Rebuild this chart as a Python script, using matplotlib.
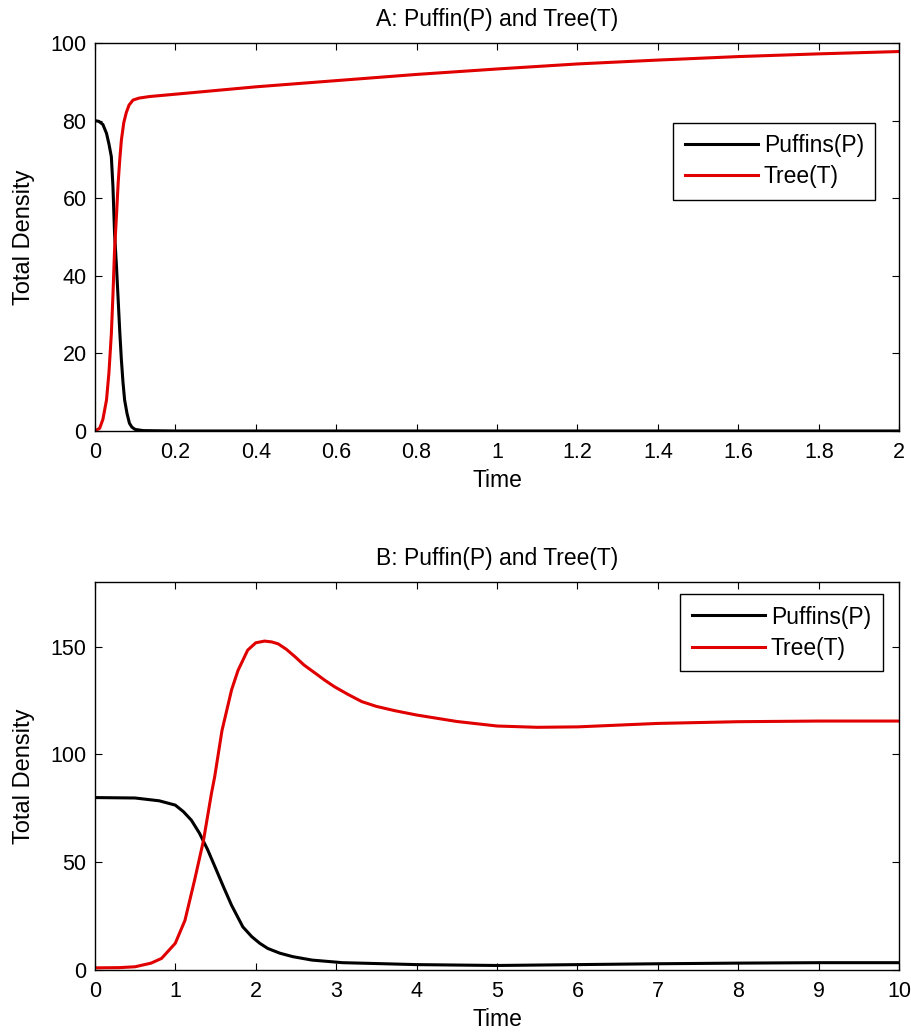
import numpy as np
from matplotlib import pyplot as plt

## Panel A data ##
a_time_p = [0, 0.01, 0.02, 0.029, 0.035, 0.041, 0.045, 0.049, 0.054, 0.058, 0.062, 0.066,
            0.070, 0.074, 0.080, 0.086, 0.092, 0.10, 0.12, 0.2, 0.5, 1.0, 1.5, 2.0]
a_puffins = [80, 79.8, 79, 76.7, 74, 70.7, 63, 51, 42, 33.8, 25.5, 18.3,
             12.5, 8, 4.5, 2, 1, 0.4, 0.1, 0, 0, 0, 0, 0]
a_time_t = [0, 0.012, 0.02, 0.029, 0.035, 0.041, 0.045, 0.049, 0.054, 0.058, 0.062, 0.066,
            0.072, 0.078, 0.085, 0.095, 0.11, 0.136, 0.2, 0.4, 0.6, 0.8, 1.0, 1.2, 1.4,
            1.6, 1.8, 2.0]
a_tree = [0, 0.7, 3, 8, 15, 25, 35, 46.6, 56, 64, 70, 75,
          79.5, 82, 84, 85.3, 85.8, 86.2, 86.8, 88.7, 90.3, 91.9, 93.3, 94.6, 95.6,
          96.5, 97.2, 97.8]

## Panel B data ##
b_time_p = [0, 0.5, 0.8, 1.0, 1.1, 1.2, 1.3, 1.4, 1.5, 1.6, 1.7, 1.84, 1.95, 2.05,
            2.15, 2.3, 2.46, 2.7, 3.08, 3.7, 4.0, 5.0, 6.0, 7.0, 8.0, 9.0, 10.0]
b_puffins = [80, 79.8, 78.5, 76.5, 73.5, 69.5, 63.5, 56, 47.3, 38.5, 30, 20, 15.5, 12.4,
             10, 7.8, 6.2, 4.6, 3.4, 2.8, 2.5, 2.1, 2.5, 2.9, 3.2, 3.4, 3.4]
b_time_t = [0, 0.3, 0.5, 0.7, 0.83, 1.0, 1.12, 1.24, 1.35, 1.45, 1.49, 1.58, 1.7, 1.78,
            1.9, 2.0, 2.11, 2.2, 2.28, 2.38, 2.49, 2.6, 2.74, 2.86, 2.98, 3.15, 3.32,
            3.5, 3.73, 4.0, 4.5, 5.0, 5.5, 6.0, 7.0, 8.0, 9.0, 10.0]
b_tree = [1, 1.1, 1.5, 3.2, 5.4, 12.4, 23, 41.7, 60, 82, 89.7, 111, 130, 139,
          148.4, 151.8, 152.6, 152.2, 151.3, 148.8, 145.3, 141.5, 137.7, 134.4, 131.4, 127.8, 124.5,
          122.3, 120.3, 118.3, 115.3, 113.2, 112.6, 112.8, 114.4, 115.2, 115.5, 115.5]

plt.rcParams['font.family'] = ['Liberation Sans', 'DejaVu Sans']

fig = plt.figure(figsize=(9.12, 10.36), dpi=100)
ax1 = fig.add_axes([0.104, 0.584, 0.882, 0.3745])
ax2 = fig.add_axes([0.104, 0.0637, 0.882, 0.3745])


def style(ax, title):
    ax.set_title(title, fontsize=16.5, pad=12)
    ax.set_xlabel('Time', fontsize=16.5, labelpad=4)
    ax.set_ylabel('Total Density', fontsize=17, labelpad=11)
    ax.tick_params(direction='in', top=True, right=True, length=5, labelsize=15.5)
    ax.tick_params(axis='x', pad=8)
    ax.tick_params(axis='y', pad=6)
    for s in ax.spines.values():
        s.set_linewidth(1.0)


def legend(ax, anchor):
    leg = ax.legend(loc='upper left', bbox_to_anchor=anchor, fancybox=False,
                    edgecolor='black', framealpha=1, handlelength=3.2, handletextpad=0.25,
                    borderpad=0.5, fontsize=16.5, labelspacing=0.35, borderaxespad=0)
    leg.get_frame().set_linewidth(1.0)


ax1.plot(a_time_p, a_puffins, c='black', lw=2.2, label='Puffins(P)')
ax1.plot(a_time_t, a_tree, c='#e00000', lw=2.2, label='Tree(T)')
ax1.set_xlim(0, 2)
ax1.set_ylim(0, 100)
ax1.set_xticks(np.arange(0, 2.01, 0.2))
ax1.set_xticklabels(['0', '0.2', '0.4', '0.6', '0.8', '1', '1.2', '1.4', '1.6', '1.8', '2'])
ax1.set_yticks(np.arange(0, 101, 20))
style(ax1, 'A: Puffin(P) and Tree(T)')
legend(ax1, (0.719, 0.794))

ax2.plot(b_time_p, b_puffins, c='black', lw=2.2, label='Puffins(P)')
ax2.plot(b_time_t, b_tree, c='#e00000', lw=2.2, label='Tree(T)')
ax2.set_xlim(0, 10)
ax2.set_ylim(0, 180)
ax2.set_xticks(np.arange(0, 11, 1))
ax2.set_yticks([0, 50, 100, 150])
style(ax2, 'B: Puffin(P) and Tree(T)')
legend(ax2, (0.728, 0.969))

fig.savefig('out.png', dpi=100)
